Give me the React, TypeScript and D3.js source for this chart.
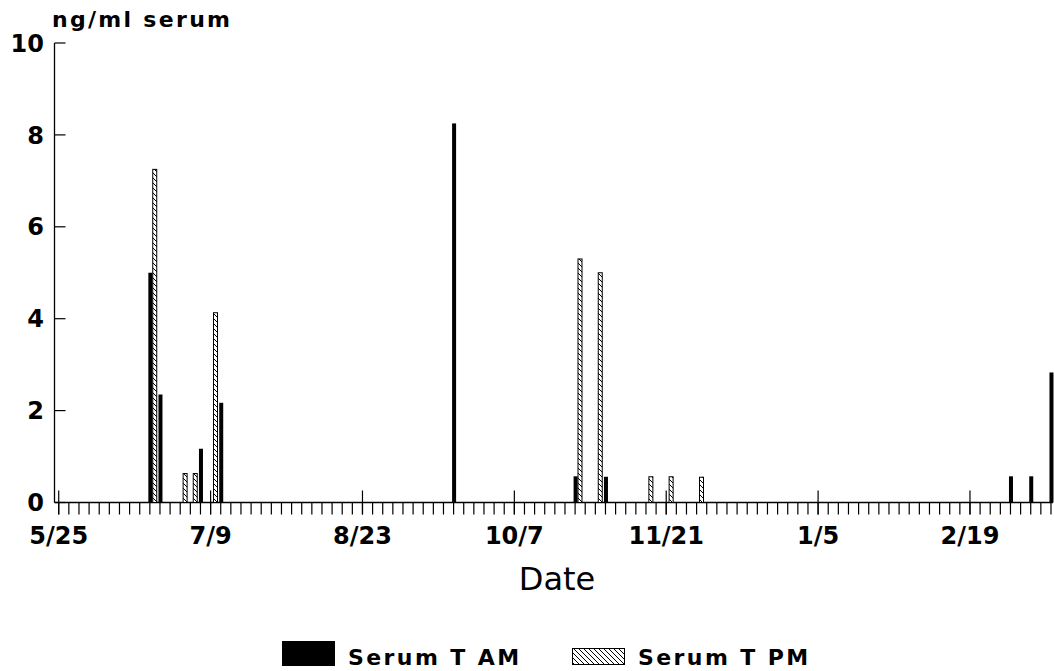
import React from "react";
import * as d3 from "d3";

// ---- data ----
const amDates = ["6/21", "6/24", "7/6", "7/12", "9/19", "10/25", "11/3", "3/3", "3/9", "3/15"];
const amValues = [5.0, 2.35, 1.17, 2.17, 8.25, 0.57, 0.56, 0.57, 0.57, 2.83];
const pmDates = ["6/21", "6/30", "7/3", "7/9", "10/25", "10/31", "11/15", "11/21", "11/30"];
const pmValues = [7.25, 0.63, 0.63, 4.13, 5.3, 5.0, 0.56, 0.56, 0.55];
const xTickLabels = ["5/25", "7/9", "8/23", "10/7", "11/21", "1/5", "2/19"];
const yTicks = [0, 2, 4, 6, 8, 10];
const seriesNames = ["Serum T AM", "Serum T PM"];

const parse = (s: string) => {
  const [m, d] = s.split("/").map(Number);
  const year = m >= 5 ? 1986 : 1987;
  return new Date(Date.UTC(year, m - 1, d));
};

const W = 1054;
const H = 671;
const FONT = "'DejaVu Sans', Verdana, sans-serif";

export default function App() {
  const start = parse("5/25");
  const x = d3
    .scaleUtc()
    .domain([new Date(start.getTime() - 1.25 * 864e5), new Date(start.getTime() + 294.6 * 864e5)])
    .range([54.5, 1053]);
  const y = d3.scaleLinear().domain([0, 10]).range([502.5, 43]);

  const minorTicks = d3.range(0, 295, 3).map((i) => d3.utcDay.offset(start, i));
  const majorTicks = xTickLabels.map(parse);

  const amBars = amDates.map((d, i) => ({ date: parse(d), v: amValues[i] }));
  const pmBars = pmDates.map((d, i) => ({ date: parse(d), v: pmValues[i] }));

  const x0 = x.range()[0];
  const x1 = x.range()[1];
  const yb = y(0);

  return (
    <svg
      width={W}
      height={H}
      style={{ position: "absolute", left: 0, top: 0, background: "#fff" }}
      fontFamily={FONT}
    >
      <defs>
        <pattern id="hatch" patternUnits="userSpaceOnUse" width="5" height="5">
          <rect width="5" height="5" fill="#fff" />
          <path d="M-1,-1 L6,6 M-1,4 L1,6 M4,-1 L6,1" stroke="#000" strokeWidth="1" />
        </pattern>
      </defs>
      <rect width={W} height={H} fill="#fff" />

      {/* title */}
      <text x={52} y={27} fontSize={22} fontWeight="bold" letterSpacing={2.3}>
        ng/ml serum
      </text>

      {/* y axis */}
      <line x1={x0} x2={x0} y1={y(10)} y2={yb} stroke="#000" strokeWidth={1.3} />
      {yTicks.map((t) => (
        <g key={t}>
          <line x1={x0} x2={x0 + 11} y1={y(t)} y2={y(t)} stroke="#000" strokeWidth={1.2} />
          <text x={44} y={y(t)} dy="0.36em" textAnchor="end" fontSize={24} fontWeight="bold">
            {t}
          </text>
        </g>
      ))}

      {/* x axis */}
      <line x1={x0} x2={x1} y1={yb} y2={yb} stroke="#000" strokeWidth={1.3} />
      {minorTicks.map((d, i) => (
        <line key={i} x1={x(d)} x2={x(d)} y1={yb} y2={yb + 12} stroke="#000" strokeWidth={1.2} />
      ))}
      {majorTicks.map((d, i) => (
        <g key={i}>
          <line x1={x(d)} x2={x(d)} y1={yb - 12} y2={yb + 12} stroke="#000" strokeWidth={1.2} />
          <text x={x(d)} y={544} textAnchor="middle" fontSize={24} fontWeight="bold">
            {xTickLabels[i]}
          </text>
        </g>
      ))}
      <text x={557} y={590} textAnchor="middle" fontSize={32}>
        Date
      </text>

      {/* bars */}
      {amBars.map((b, i) => (
        <rect key={"am" + i} x={x(b.date) - 1.5} width={4} y={y(b.v)} height={yb - y(b.v)} fill="#000" />
      ))}
      {pmBars.map((b, i) => (
        <rect
          key={"pm" + i}
          x={x(b.date) + 2.9}
          width={4}
          y={y(b.v)}
          height={yb - y(b.v)}
          fill="url(#hatch)"
          stroke="#000"
          strokeWidth={1}
        />
      ))}

      {/* legend */}
      <rect x={282} y={641} width={53} height={25} fill="#000" />
      <text x={348} y={665} fontSize={22} fontWeight="bold" letterSpacing={2.4}>
        {seriesNames[0]}
      </text>
      <rect x={572.5} y={648.5} width={52} height={16} fill="url(#hatch)" stroke="#000" strokeWidth={1} />
      <text x={638} y={665} fontSize={22} fontWeight="bold" letterSpacing={2.4}>
        {seriesNames[1]}
      </text>
    </svg>
  );
}
